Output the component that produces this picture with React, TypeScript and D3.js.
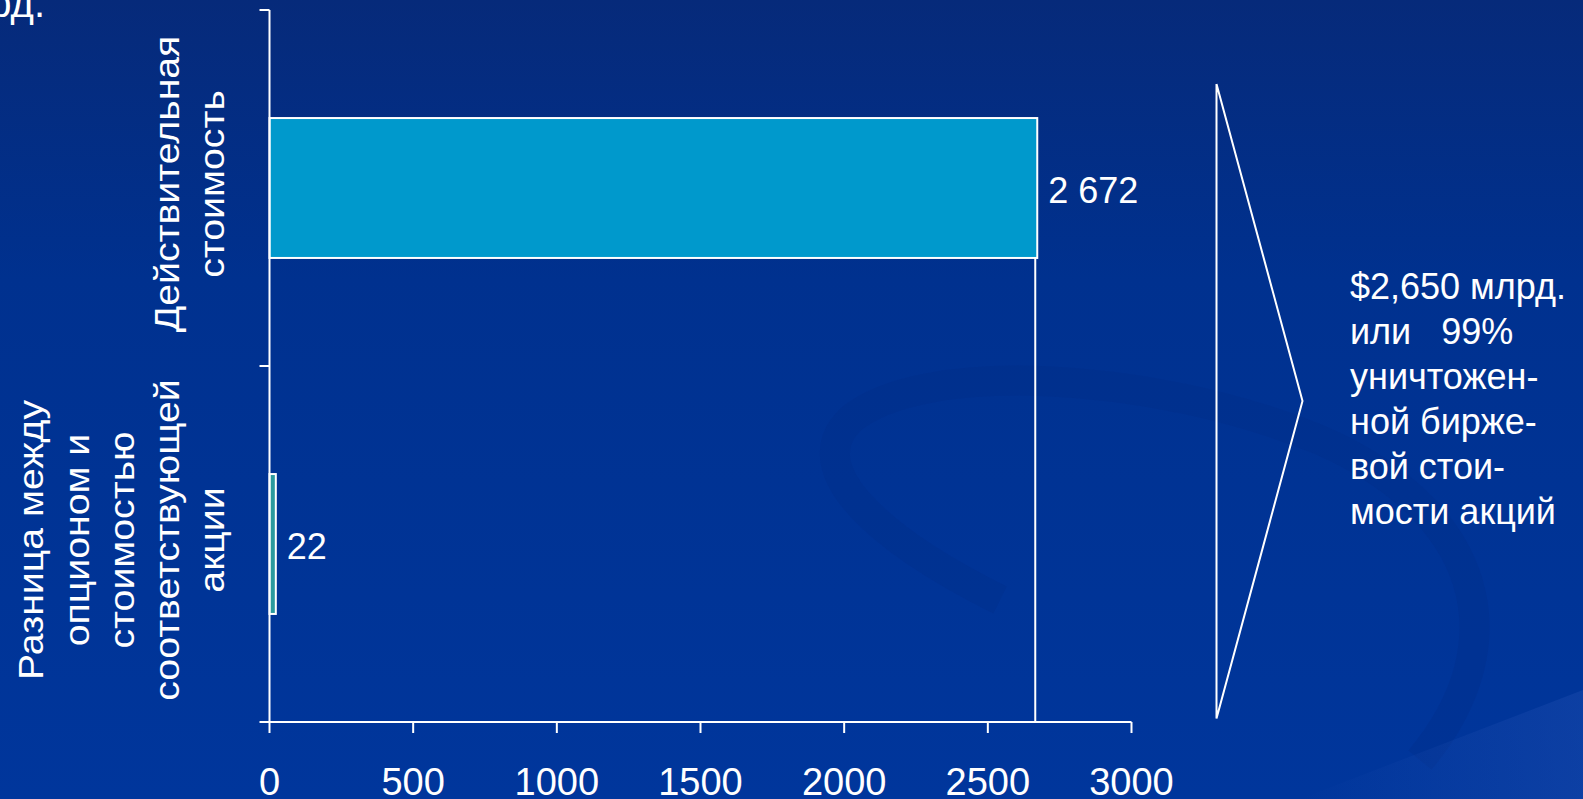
import React from "react";
import * as d3 from "d3";

const categories = ["Действительная стоимость", "Разница между опционом и стоимостью соответствующей акции"];
const categoryLines = [
  ["Действительная", "стоимость"],
  ["Разница между", "опционом и", "стоимостью", "соответствующей", "акции"],
];
const values = [2672, 22];
const valueLabels = ["2 672", "22"];
const barColors = ["#0099CC", "#2A9A9E"];
const xTicks = [0, 500, 1000, 1500, 2000, 2500, 3000];
const noteLines = ["$2,650 млрд.", "или   99%", "уничтожен-", "ной бирже-", "вой стои-", "мости акций"];
const titleTail = "млрд.";

const W = 1583;
const H = 799;
const FONT = "'Liberation Sans', Arial, sans-serif";

export default function App() {
  const x = d3.scaleLinear().domain([0, 3000]).range([269.5, 1131.5]);
  const y = d3.scaleBand<string>().domain(categories).range([10, 722]).paddingInner(0.607).paddingOuter(0.3035);
  const x0 = x(0);
  const yBottom = 722;

  const chevron = d3.line()([
    [1216.5, 84],
    [1302.5, 401],
    [1216.5, 718.5],
    [1216.5, 84],
  ]);

  return (
    <svg
      width={W}
      height={H}
      style={{ position: "fixed", left: 0, top: 0, display: "block" }}
      fontFamily={FONT}
    >
      <defs>
        <linearGradient id="bg" x1="0" y1="0" x2="0" y2="1">
          <stop offset="0" stopColor="#062a7a" />
          <stop offset="0.35" stopColor="#00318f" />
          <stop offset="1" stopColor="#00369c" />
        </linearGradient>
        <linearGradient id="sheen" x1="0" y1="0" x2="1" y2="0">
          <stop offset="0" stopColor="#2a56b8" stopOpacity="0" />
          <stop offset="1" stopColor="#2a56b8" stopOpacity="0.6" />
        </linearGradient>
      </defs>
      <rect x={0} y={0} width={W} height={H} fill="url(#bg)" />
      {/* subtle swirl decorations */}
      <path
        d="M1000,600 C880,540 800,470 850,420 C920,360 1150,370 1320,440 C1480,510 1520,640 1420,760"
        fill="none"
        stroke="#002a82"
        strokeOpacity={0.25}
        strokeWidth={30}
      />
      <path d="M1300,799 L1583,690 L1583,799 Z" fill="url(#sheen)" opacity={0.5} />

      {/* title tail (cut off at left) */}
      <text x={45} y={17} fontSize={40} fill="#fff" textAnchor="end">
        {titleTail}
      </text>

      {/* bars */}
      {categories.map((c, i) => (
        <rect
          key={c}
          x={x0}
          y={y(c)}
          width={x(values[i]) - x0}
          height={y.bandwidth()}
          fill={barColors[i]}
          stroke="#fff"
          strokeWidth={2}
        />
      ))}

      {/* annotation vertical line from end of first bar */}
      <line
        x1={x(values[0]) - 2}
        x2={x(values[0]) - 2}
        y1={(y(categories[0]) as number) + y.bandwidth()}
        y2={yBottom}
        stroke="#fff"
        strokeWidth={2}
      />

      {/* value labels */}
      {categories.map((c, i) => (
        <text
          key={c + "v"}
          x={x(values[i]) + 11}
          y={(y(c) as number) + y.bandwidth() / 2 + 15}
          fontSize={36}
          fill="#fff"
        >
          {valueLabels[i]}
        </text>
      ))}

      {/* y axis */}
      <line x1={x0} x2={x0} y1={10} y2={yBottom} stroke="#fff" strokeWidth={2} />
      {[10, (10 + yBottom) / 2, yBottom].map((t, i) => (
        <line key={"yt" + i} x1={x0 - 10} x2={x0} y1={t} y2={t} stroke="#fff" strokeWidth={2} />
      ))}

      {/* x axis */}
      <line x1={x0} x2={x(3000)} y1={yBottom} y2={yBottom} stroke="#fff" strokeWidth={2} />
      {xTicks.map((t) => (
        <g key={"xt" + t}>
          <line x1={x(t)} x2={x(t)} y1={yBottom} y2={yBottom + 11} stroke="#fff" strokeWidth={2} />
          <text x={x(t)} y={795} fontSize={38} fill="#fff" textAnchor="middle">
            {t}
          </text>
        </g>
      ))}

      {/* category labels */}
      {categories.map((c, i) => {
        const lines = categoryLines[i];
        const n = lines.length;
        const cy = (y(c) as number) + y.bandwidth() / 2 - 4;
        return (
          <g key={c + "l"} transform={`translate(212,${cy}) rotate(-90) scale(1.09,1)`}>
            {lines.map((ln, j) => (
              <text
                key={j}
                x={0}
                y={(j - (n - 1)) * 45.3}
                fontSize={36}
                fill="#fff"
                textAnchor="middle"
                dominantBaseline="central"
              >
                {ln}
              </text>
            ))}
          </g>
        );
      })}

      {/* chevron */}
      <path d={chevron as string} fill="none" stroke="#fff" strokeWidth={2} />

      {/* note */}
      {noteLines.map((ln, i) => (
        <text key={"n" + i} x={1350} y={299 + i * 45} fontSize={36} fill="#fff" xmlSpace="preserve" style={{ whiteSpace: "pre" }}>
          {ln}
        </text>
      ))}
    </svg>
  );
}
